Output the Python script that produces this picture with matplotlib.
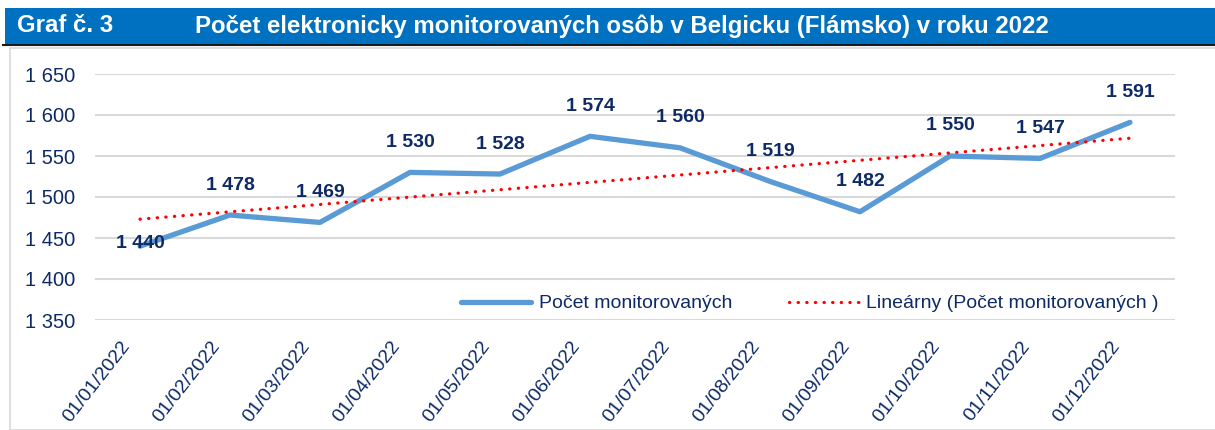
import numpy as np
import matplotlib.pyplot as plt
import matplotlib.transforms as mtransforms
from matplotlib.patches import Rectangle
from matplotlib.lines import Line2D

# Údaje: počet elektronicky monitorovaných osôb (Flámsko, 2022)
datumy = ['01/01/2022', '01/02/2022', '01/03/2022', '01/04/2022', '01/05/2022', '01/06/2022',
          '01/07/2022', '01/08/2022', '01/09/2022', '01/10/2022', '01/11/2022', '01/12/2022']
pocet = [1440, 1478, 1469, 1530, 1528, 1574, 1560, 1519, 1482, 1550, 1547, 1591]
y_ticky = [1350, 1400, 1450, 1500, 1550, 1600, 1650]

navy = '#0E2A66'
plt.rcParams['font.family'] = ['Liberation Sans', 'DejaVu Sans']

W, H = 1215, 430
fig = plt.figure(figsize=(W / 100, H / 100), dpi=100)

# rámik grafu a modrý pruh s nadpisom
fig.patches.append(Rectangle((10 / W, 0), 1.2, (H - 48) / H, transform=fig.transFigure,
                             facecolor='none', edgecolor='#D9D9D9', lw=1.2, zorder=0))
fig.patches.append(Rectangle((5 / W, (H - 44) / H), 1.0, 36 / H, transform=fig.transFigure,
                             facecolor='#0070C0', edgecolor='none', zorder=1))
fig.add_artist(Line2D([3 / W, 1.0], [(H - 45) / H] * 2, color='#1A1A1A', lw=1.5))
fig.text(17 / W, (H - 26) / H, 'Graf č. 3', color='white', fontsize=17.3, fontweight='bold',
         va='center', ha='left')
fig.text(195 / W, (H - 26) / H, 'Počet elektronicky monitorovaných osôb v Belgicku (Flámsko) v roku 2022',
         color='white', fontsize=17.3, fontweight='bold', va='center', ha='left')

ax = fig.add_axes([95 / W, (H - 320) / H, (1175 - 95) / W, (320 - 74) / H])
ax.patch.set_alpha(0)
x = np.arange(len(pocet))

ax.plot(x, pocet, color='#5B9BD5', lw=3.8, solid_capstyle='round', solid_joinstyle='round',
        label='Počet monitorovaných', zorder=3)

# lineárny trend
k, q = np.polyfit(x, pocet, 1)
ax.plot(x, k * x + q, color='#FF0000', lw=2.3, linestyle=(0, (0.1, 2.6)), dash_capstyle='round',
        label='Lineárny (Počet monitorovaných )', zorder=4)

for i, v in enumerate(pocet):
    dy = 3 if i == 0 else 30
    ax.annotate(f'{v:,}'.replace(',', ' '), (i, v), xytext=(0, dy), textcoords='offset pixels',
                ha='center', va='center', fontsize=14, fontweight='bold', color=navy,
                annotation_clip=False, zorder=5)

ax.set_xlim(-0.5, len(pocet) - 0.5)
ax.set_ylim(1350, 1650)
ax.set_yticks(y_ticky)
ax.set_yticklabels([f'{t:,}'.replace(',', ' ') for t in y_ticky], fontsize=14.5, color=navy)
ax.set_xticks(x)
ax.set_xticklabels([])

# popisky dátumov, šikmo a trochu vľavo od bodu
posun = mtransforms.ScaledTranslation(-0.13, -0.23, fig.dpi_scale_trans)
for i, d in enumerate(datumy):
    ax.text(i, 0, d, transform=ax.get_xaxis_transform() + posun, rotation=52,
            rotation_mode='anchor', ha='right', va='center', fontsize=14, color=navy)

ax.tick_params(length=0, pad=12)
ax.tick_params(axis='y', pad=14)
ax.grid(axis='y', color='#D9D9D9', lw=1.5)
ax.set_axisbelow(True)
for s in ax.spines.values():
    s.set_visible(False)

leg = ax.legend(loc='lower center', bbox_to_anchor=(0.662, -0.04), ncol=2, frameon=False,
                fontsize=14, handlelength=3.6, columnspacing=2.9, handletextpad=0.4)
for t in leg.get_texts():
    t.set_color(navy)

fig.savefig('out.png', dpi=100)
